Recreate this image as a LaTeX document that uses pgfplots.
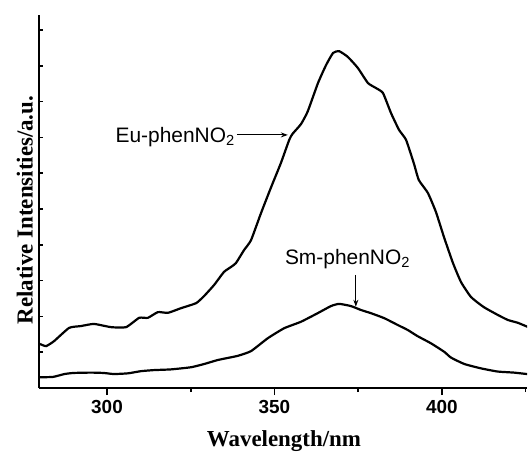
\documentclass[border=0pt]{standalone}
\usepackage{pgfplots}
\pgfplotsset{compat=1.18}
\usetikzlibrary{arrows.meta}
\usepackage{fontspec}
\setmainfont{Liberation Serif}
\newfontfamily\arial{Liberation Sans}
\begin{document}
\begin{tikzpicture}
\begin{axis}[
  name=ax,
  scale only axis,
  width=488bp, height=373bp,
  xmin=279.7, xmax=425.4,
  ymin=0, ymax=10.42,
  axis lines=left,
  axis line style={-, line width=2.4bp, black},
  tick align=outside,
  xtick={300,350,400},
  minor xtick={325,375,425},
  ytick=\empty,
  extra y ticks={1,2,3,4,5,6,7,8,9,10},
  extra y tick labels={},
  extra y tick style={tick align=inside, major tick length=4bp},
  major tick length=7bp,
  minor tick length=4bp,
  tick style={black, line width=1.6bp},
  /pgf/number format/assume math mode=true,
  xticklabel style={font=\arial\bfseries\fontsize{19}{19}\selectfont, yshift=-2bp},
  xlabel={Wavelength/nm},
  ylabel={Relative Intensities/a.u.},
  xlabel style={font=\bfseries\fontsize{23}{23}\selectfont, at={(axis description cs:0.502,-0.158)}, anchor=base},
  ylabel style={font=\bfseries\fontsize{23}{23}\selectfont, at={(axis description cs:-0.0133,0.477)}, anchor=base},
  clip=true,
]
\addplot[black, line width=2.2bp, smooth, tension=0.3] coordinates {
(280,1.23)(281.8,1.17)(284.2,1.31)(288.7,1.68)(292.2,1.73)(296.1,1.79)(301.2,1.70)(305.7,1.70)(309.6,1.96)(312.2,1.96)(315.2,2.12)(318.2,2.10)(322.1,2.23)(326.6,2.37)(329.0,2.57)(332.0,2.88)(334.9,3.24)(337.0,3.38)(338.5,3.49)(340.9,3.85)(343.0,4.13)(346.0,4.89)(349.0,5.61)(351.9,6.28)(354.4,6.93)(355.4,7.10)(357.9,7.37)(359.9,7.72)(363.0,8.52)(365.4,9.02)(367.5,9.36)(369.3,9.41)(371.9,9.25)(374.9,8.94)(377.9,8.52)(380.3,8.38)(382.4,8.24)(384.8,7.68)(387.2,7.21)(389.3,6.93)(391.6,6.28)(393.1,5.81)(395.8,5.45)(398.2,4.92)(400.6,4.22)(403.3,3.49)(405.7,2.96)(408.7,2.54)(412.5,2.26)(416.7,2.04)(419.7,1.90)(422.7,1.82)(426.3,1.68)
};
\addplot[black, line width=2.2bp, smooth, tension=0.3] coordinates {
(280,0.30)(283.9,0.31)(287.3,0.39)(290,0.42)(295.2,0.43)(299,0.42)(302.1,0.39)(306.3,0.41)(310.1,0.47)(314,0.50)(319.1,0.52)(325.1,0.58)(329,0.67)(333,0.78)(336.1,0.84)(339.1,0.90)(343.0,1.03)(348.0,1.39)(352.9,1.67)(357.9,1.85)(362.9,2.09)(366.9,2.29)(369.3,2.35)(372.8,2.29)(375.8,2.18)(378.8,2.09)(382.8,1.95)(386.8,1.76)(389.8,1.62)(392.7,1.45)(396.7,1.25)(400.7,1.01)(402.7,0.85)(406.7,0.67)(411.6,0.55)(416.6,0.46)(421.5,0.43)(426.3,0.38)
};
\node[font=\arial\fontsize{21}{21}\selectfont, anchor=base east, inner sep=0pt] at (axis cs:338.2,6.85) {Eu-phenNO\textsubscript{2}};
\draw[-{Stealth[length=7bp,width=5bp]}, line width=1.1bp] (axis cs:338.8,7.07) -- (axis cs:354.0,7.07);
\node[font=\arial\fontsize{21}{21}\selectfont, anchor=base west, inner sep=0pt] at (axis cs:353.1,3.44) {Sm-phenNO\textsubscript{2}};
\draw[-{Stealth[length=7bp,width=5bp]}, line width=1.1bp] (axis cs:374.3,3.16) -- (axis cs:374.3,2.27);
\end{axis}
\pgfresetboundingbox
\path[use as bounding box] ([shift={(-39bp,-65bp)}]ax.south west) rectangle ([shift={(2bp,15bp)}]ax.north east);
\end{tikzpicture}
\end{document}
